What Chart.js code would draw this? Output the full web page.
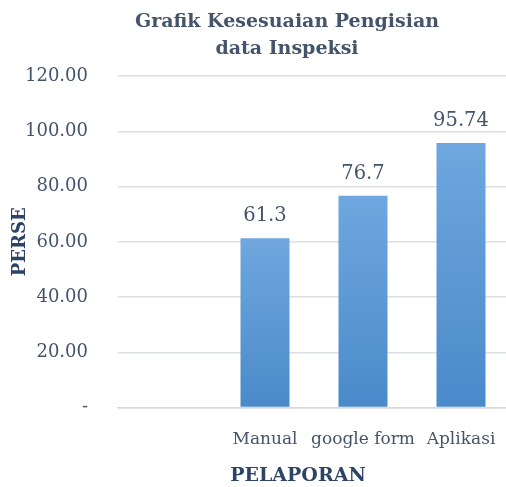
<!DOCTYPE html>
<html><head><meta charset="utf-8">
<script src="https://cdn.jsdelivr.net/npm/chart.js@4/dist/chart.umd.min.js"></script>
<style>
html,body{margin:0;padding:0;background:#fff;overflow:hidden;width:506px;height:487px;}
#wrap{position:absolute;left:0;top:0;width:574px;height:487px;}
</style></head>
<body>
<div id="wrap"><canvas id="c" width="574" height="487"></canvas></div>
<script>
const titleLines = ['Grafik Kesesuaian Pengisian', 'data Inspeksi'];
const categories = ['', 'Manual', 'google form', 'Aplikasi'];
const values = [null, 61.3, 76.7, 95.74];
const valueLabels = ['', '61.3', '76.7', '95.74'];
const yTickLabels = {0: '-', 20: '20.00', 40: '40.00', 60: '60.00', 80: '80.00', 100: '100.00', 120: '120.00'};
const yTitle = 'PERSE';
const xTitle = 'PELAPORAN';

const SERIF = "'DejaVu Serif', 'Liberation Serif', serif";
const TXT = '#44546A';
const DARK = '#2E4466';

const valueLabelPlugin = {
  id: 'valueLabels',
  afterDatasetsDraw(chart) {
    const ctx = chart.ctx;
    const meta = chart.getDatasetMeta(0);
    ctx.save();
    ctx.font = '19.5px ' + SERIF;
    ctx.fillStyle = TXT;
    ctx.textAlign = 'center';
    ctx.textBaseline = 'alphabetic';
    meta.data.forEach((bar, i) => {
      if (values[i] == null) return;
      ctx.fillText(valueLabels[i], bar.x, bar.y - 17);
    });
    ctx.restore();
  }
};

const xTitlePlugin = {
  id: 'xTitle',
  afterDraw(chart) {
    const ctx = chart.ctx;
    ctx.save();
    ctx.font = 'bold 19px ' + SERIF;
    ctx.fillStyle = DARK;
    ctx.textAlign = 'center';
    ctx.textBaseline = 'middle';
    ctx.fillText(xTitle, 298, 476);
    ctx.restore();
  }
};

new Chart(document.getElementById('c'), {
  type: 'bar',
  data: {
    labels: categories,
    datasets: [{
      data: values,
      backgroundColor(c) {
        const chart = c.chart;
        const area = chart.chartArea;
        if (!area || c.raw == null) return '#5B9BD5';
        const yS = chart.scales.y;
        const top = yS.getPixelForValue(c.raw);
        const bottom = yS.getPixelForValue(0);
        const g = chart.ctx.createLinearGradient(0, top, 0, bottom);
        g.addColorStop(0, '#6FA7DE');
        g.addColorStop(1, '#4A8ACA');
        return g;
      },
      borderWidth: 0,
      barPercentage: 0.5,
      categoryPercentage: 1.0
    }]
  },
  options: {
    responsive: false,
    animation: false,
    layout: {padding: {top: 8, right: 0, bottom: 15, left: 0}},
    plugins: {
      legend: {display: false},
      tooltip: {enabled: false},
      title: {
        display: true,
        text: titleLines,
        color: TXT,
        font: {family: SERIF, size: 19, weight: 'bold', lineHeight: 1.45},
        padding: {top: 0, bottom: 13}
      }
    },
    scales: {
      x: {
        grid: {display: false, drawTicks: false},
        border: {display: true, color: '#D9D9D9', width: 1.5},
        ticks: {color: TXT, font: {family: SERIF, size: 17}, padding: 22, maxRotation: 0, autoSkip: false}
      },
      y: {
        min: 0, max: 120,
        afterFit(s) { s.width = 118; },
        grid: {color: '#DCDFE4', lineWidth: 1.5, drawTicks: false},
        border: {display: false},
        ticks: {
          stepSize: 20,
          color: TXT,
          font: {family: SERIF, size: 18},
          padding: 30,
          callback(v) { return yTickLabels[v]; }
        },
        title: {
          display: true,
          text: yTitle,
          color: DARK,
          font: {family: SERIF, size: 18, weight: 'bold'},
          padding: {top: 10, bottom: 0}
        }
      },
      yRight: {
        position: 'right',
        display: true,
        min: 0, max: 120,
        afterFit(s) { s.width = 64; },
        grid: {display: false, drawTicks: false},
        border: {display: false},
        ticks: {display: false}
      }
    }
  },
  plugins: [valueLabelPlugin, xTitlePlugin]
});
</script>
</body></html>
